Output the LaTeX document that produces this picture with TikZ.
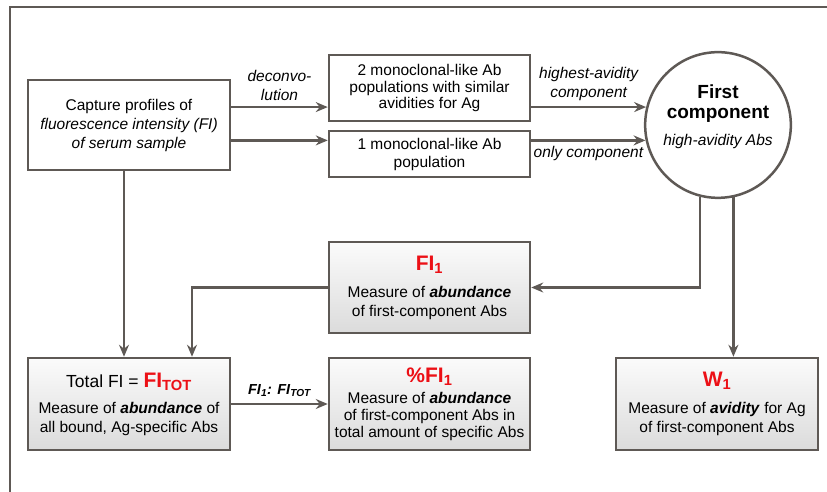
\documentclass[tikz,border=0pt]{standalone}
\usepackage{fontspec}
\setmainfont{Liberation Sans}
\usetikzlibrary{shapes, arrows, calc, positioning, backgrounds}
\usetikzlibrary{arrows.meta}

\definecolor{framegray}{RGB}{94,89,85}
\definecolor{headred}{RGB}{236,16,22}
\newcommand{\headtxt}[1]{{\fontsize{21}{23}\selectfont\bfseries\color{headred}#1}}
\newcommand{\circtxt}[1]{{\fontsize{19}{21}\selectfont\bfseries #1}}
\newcommand{\bemph}[1]{\textbf{\textit{#1}}}

\begin{document}
\begin{tikzpicture}[
    x=1pt, y=1pt,
    every node/.style={font=\fontsize{15.5}{19}\selectfont},
    plain box/.style={rectangle, draw=framegray, line width=2.5pt, fill=white, align=center, inner sep=2pt},
    shaded box/.style={plain box, top color=gray!3, bottom color=gray!28},
    conn/.style={draw=framegray, line width=2.5pt, -{Stealth[length=12pt, width=10pt, inset=4pt]}},
    edge label/.style={font=\fontsize{15.5}{19}\selectfont\itshape, align=center, inner sep=1pt}
]
\useasboundingbox (0,0) rectangle (827,492);
% outer frame (only top and left sides are visible)
\draw[framegray, line width=2.5pt] (827,485) -- (10,485) -- (10,0);

% top row
\node[plain box, minimum width=202, minimum height=90] (Capture) at (129,367)
    {Capture profiles of\\\textit{fluorescence intensity (FI)}\\\textit{of serum sample}};
\node[plain box, minimum width=201, minimum height=66, font=\fontsize{15.5}{16.5}\selectfont] (TwoPop) at (429.5,404)
    {2 monoclonal-like Ab\\populations with similar\\avidities for Ag};
\node[plain box, minimum width=201, minimum height=46, font=\fontsize{15.5}{18}\selectfont] (OnePop) at (429.5,338)
    {1 monoclonal-like Ab\\population};
\node[circle, draw=framegray, line width=2.5pt, fill=white, minimum size=127, align=center] (First) at (718,367)
    {\circtxt{First}\\[1pt]\circtxt{component}\\[8pt]\textit{high-avidity Abs}\\[-4pt]\strut};

% measures
\node[shaded box, minimum width=201, minimum height=91] (FIone) at (429.5,204.5)
    {\headtxt{FI\textsubscript{1}}\\[8pt]Measure of \bemph{abundance}\\of first-component Abs};
\node[shaded box, minimum width=202, minimum height=92] (Total) at (129,88)
    {{\fontsize{17.5}{22}\selectfont Total FI = }\headtxt{FI\textsubscript{TOT}}\\[7pt]Measure of \bemph{abundance} of\\all bound, Ag-specific Abs};
\node[shaded box, minimum width=201, minimum height=92, font=\fontsize{15.5}{17}\selectfont] (Pct) at (429.5,88)
    {\headtxt{\%FI\textsubscript{1}}\\[4pt]Measure of \bemph{abundance}\\of first-component Abs in\\total amount of specific Abs};
\node[shaded box, minimum width=202, minimum height=92] (Wone) at (717,88)
    {\headtxt{W\textsubscript{1}}\\[8pt]Measure of \bemph{avidity} for Ag\\of first-component Abs};

% connectors
\draw[conn] (Capture.east |- First.166) -- (TwoPop.west |- First.166)
    node[edge label, midway, above=4pt] {deconvo-\\lution};
\draw[conn] (Capture.east |- First.192) -- (OnePop.west |- First.192);
\draw[conn] (TwoPop.east |- First.166) -- (First.166)
    node[edge label, midway, above=4pt] {highest-avidity\\component};
\draw[conn] (OnePop.east |- First.192) -- (First.192)
    node[edge label, midway, below=4pt] {only component};
\draw[conn] ([xshift=-5pt]Capture.south) -- ([xshift=-5pt]Capture.south |- Total.north);
\draw[conn] (First.256) |- (FIone.east);
\draw[conn] (First.282) -- (First.282 |- Wone.north);
\draw[conn] (FIone.west) -| ([xshift=63pt]Total.north);
\draw[conn] (Total.east) -- (Pct.west)
    node[midway, above=5pt, inner sep=1pt, font=\fontsize{14.5}{16}\selectfont\bfseries\itshape] {FI\textsubscript{1}: FI\textsubscript{TOT}};
\end{tikzpicture}
\end{document}
